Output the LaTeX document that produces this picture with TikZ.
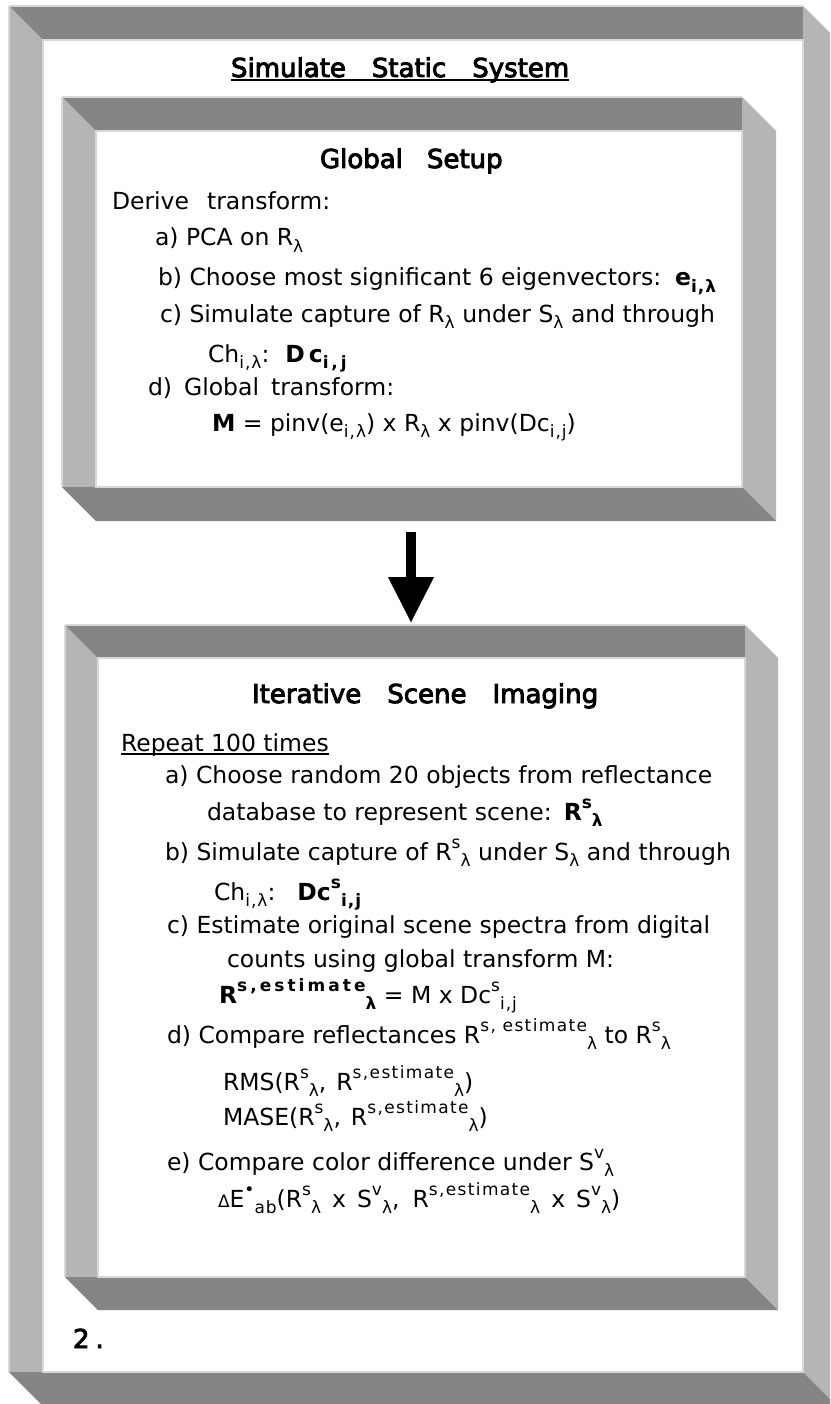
\documentclass[tikz,border=0pt]{standalone}
\usepackage{fontspec}
\setmainfont{DejaVu Sans}
\newfontfamily\headfont[FakeBold=3.5]{DejaVu Sans}
\usetikzlibrary{arrows.meta}

\definecolor{barDark}{HTML}{858585}
\definecolor{barLight}{HTML}{B5B5B5}
\definecolor{rimGray}{HTML}{D8D8D8}

% text sizes
\newcommand\bodysize{\fontsize{23.5}{28}\selectfont}
\newcommand\headsize{\headfont\fontsize{26}{30}\selectfont}
% subscripts and superscripts set one after the other
\newcommand\lo[1]{\raisebox{-0.28em}{\fontsize{17}{17}\selectfont\addfontfeature{LetterSpace=6}#1}}
\newcommand\hi[1]{\raisebox{0.5em}{\fontsize{17}{17}\selectfont\addfontfeature{LetterSpace=8}#1}}
% wide bold superscript
\newcommand\hiwide[1]{\raisebox{0.5em}{\fontsize{17}{17}\selectfont\addfontfeature{LetterSpace=18}#1}}

% bevelled 3-D frame: outer top-left (x1,y1), inner bottom-right (x2,y2), depth d
\newcommand\bevelframe[5]{%
  \fill[lightface] (#1,#2) -- ({#1+#5},{#2+#5}) -- ({#1+#5},#4) -- (#1,#4) -- cycle;
  \fill[darkface] (#1,#2) -- (#3,#2) -- (#3,{#2+#5}) -- ({#1+#5},{#2+#5}) -- cycle;
  \fill[lightface] (#3,#2) -- ({#3+#5},{#2+#5}) -- ({#3+#5},{#4+#5}) -- (#3,#4) -- cycle;
  \fill[darkface] (#1,#4) -- (#3,#4) -- ({#3+#5},{#4+#5}) -- ({#1+#5},{#4+#5}) -- cycle;
  \draw[rim] (#1,#2) -- (#3,#2);
  \draw[rim] (#1,#2) -- (#1,#4);
  \draw[rim] ({#1+#5},{#2+#5}) rectangle (#3,#4);
}

\tikzset{
  darkface/.style={fill=barDark},
  lightface/.style={fill=barLight},
  rim/.style={draw=rimGray, line width=1.4pt},
  txt/.style={anchor=base west, inner sep=0pt, outer sep=0pt, font=\bodysize},
  head/.style={anchor=base west, inner sep=0pt, outer sep=0pt, font=\headsize},
  uline/.style={line width=1.6pt},
  bigarrow/.style={line width=10pt, -{Triangle[length=45pt 0, width=46pt 0, line width=0.01pt 0]}}
}

\begin{document}
\begin{tikzpicture}[x=1pt, y=-1pt]
\useasboundingbox (0,0) rectangle (830,1404);
\fill[white] (0,0) rectangle (830,1404);
\begin{scope}
\clip (0,0) rectangle (830,1404);

% outer frame and the two stage panels
\bevelframe{9}{6}{803}{1372}{34}
\bevelframe{62}{97}{742}{487}{34}
\bevelframe{65}{625}{745}{1277}{33}
\end{scope}

% title of the whole procedure
\node[head] (title) at (231,77) {Simulate\hspace{26pt}Static\hspace{26pt}System};
\draw[uline] ([yshift=-3pt]title.base west) -- ([yshift=-3pt]title.base east);

% stage 1: global setup
\node[head] (gs) at (320,168) {Global\hspace{24pt}Setup};
\node[txt] (g1) at (112,210) {Derive\hspace{18pt}transform:};
\node[txt] (g2) at (155,246) {a) PCA on R\lo{λ}};
\node[txt] (g3) at (158,286) {b) Choose most significant 6 eigenvectors:\hspace{14pt}\textbf{e\lo{i,λ}}};
\node[txt] (g4) at (160,322) {c) Simulate capture of R\lo{λ} under S\lo{λ} and through};
\node[txt] (g5) at (208,362) {Ch\lo{i,λ}:\hspace{16pt}\textbf{D\,c\lo{i\,,\,j}}};
\node[txt] (g6) at (148,395) {d)\hspace{12pt}Global\hspace{12pt}transform:};
\node[txt] (g7) at (212,431) {\textbf{M} = pinv(e\lo{i,λ}) x R\lo{λ} x pinv(Dc\lo{i,j})};

% flow from stage 1 to stage 2
\coordinate (s1out) at (411,532);
\coordinate (s2in) at (411,622);
\draw[bigarrow] (s1out) -- (s2in);

% stage 2: iterative scene imaging
\node[head] (it) at (252,703) {Iterative\hspace{26pt}Scene\hspace{26pt}Imaging};
\node[txt] (r0) at (121,751) {Repeat 100 times};
\draw[uline] ([yshift=-3pt]r0.base west) -- ([yshift=-3pt]r0.base east);
\node[txt] (r1) at (165,783) {a) Choose random 20 objects from reflectance};
\node[txt] (r2) at (207,820) {database to represent scene:\hspace{12pt}\textbf{R\hi{s}\lo{λ}}};
\node[txt] (r3) at (165,860) {b) Simulate capture of R\hi{s}\lo{λ} under S\lo{λ} and through};
\node[txt] (r4) at (214,900) {Ch\lo{i,λ}:\hspace{22pt}\textbf{Dc\hi{s}\lo{i,j}}};
\node[txt] (r5) at (167,933) {c) Estimate original scene spectra from digital};
\node[txt] (r6) at (227,967) {counts using global transform M:};
\node[txt] (r7) at (219,1003) {\textbf{R\hiwide{s,estimate}\lo{λ}} = M x Dc\hi{s}\lo{i,j}};
\node[txt] (r8) at (167,1043) {d) Compare reflectances R\hi{s, estimate}\lo{λ} to R\hi{s}\lo{λ}};
\node[txt] (r9) at (223,1090) {RMS(R\hi{s}\lo{λ},\hspace{10pt}R\hi{s,estimate}\lo{λ})};
\node[txt] (r10) at (223,1125) {MASE(R\hi{s}\lo{λ},\hspace{10pt}R\hi{s,estimate}\lo{λ})};
\node[txt] (r11) at (167,1170) {e) Compare color difference under S\hi{v}\lo{λ}};
\node[txt] (r12) at (218,1207) {{\fontsize{17}{17}\selectfont Δ}E\hi{•}\lo{ab}(R\hi{s}\lo{λ}\hspace{11pt}x\hspace{11pt}S\hi{v}\lo{λ},\hspace{13pt}R\hi{s,estimate}\lo{λ}\hspace{11pt}x\hspace{11pt}S\hi{v}\lo{λ})};

% figure number
\node[head] (num) at (73,1348) {2\hspace{6pt}.};
\end{tikzpicture}
\end{document}
